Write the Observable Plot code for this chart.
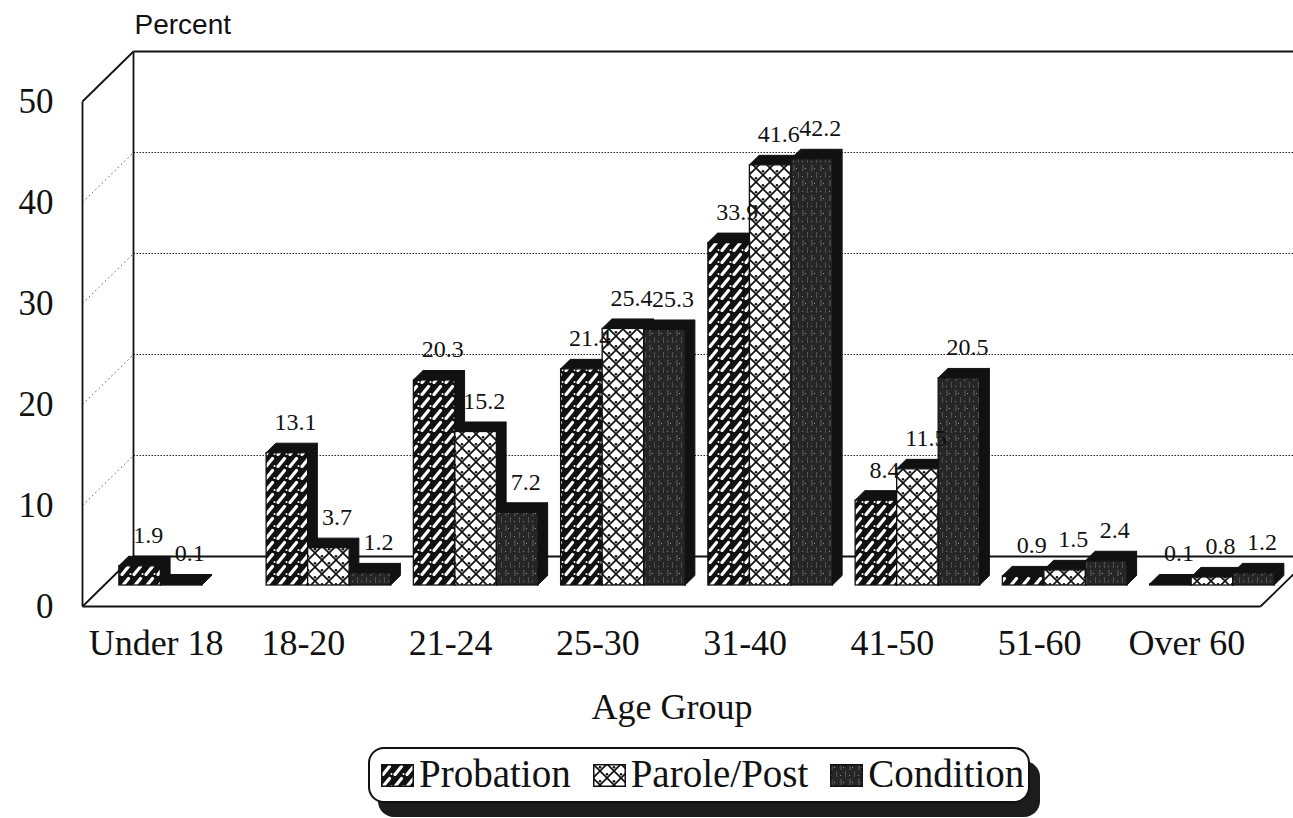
<!DOCTYPE html>
<html>
<head>
<meta charset="utf-8">
<script src="https://cdn.jsdelivr.net/npm/d3@7"></script>
<script src="https://cdn.jsdelivr.net/npm/@observablehq/plot@0.6"></script>
<style>
  html, body { margin: 0; padding: 0; background: #fff; overflow: hidden; }
  #wrap { position: relative; width: 1293px; height: 818px; }
  #chart { position: absolute; left: 0; top: 0; }
  #xtitle { position: absolute; left: 0; top: 689px; width: 1344px; text-align: center;
    font-family: "Liberation Serif", "Times New Roman", serif; font-size: 36px; line-height: 36px; color: #111; }
  #legend { position: absolute; left: 368px; top: 747px; width: 662px; height: 56px; box-sizing: border-box;
    border: 2px solid #111; border-radius: 16px; background: #fff; box-shadow: 10px 14px 0 #1c1c1c;
    display: flex; align-items: center; padding: 0 0 4px 11px;
    font-family: "Liberation Serif", "Times New Roman", serif; font-size: 39px; line-height: 39px; color: #111; }
  #legend .item { display: flex; align-items: center; margin-right: 22px; white-space: nowrap; }
  #legend .item:last-child { margin-right: 0; }
  #legend svg { margin-right: 5px; margin-top: 4px; }
</style>
</head>
<body>
<svg width="0" height="0" style="position:absolute">
  <defs>
    <pattern id="pProb" patternUnits="userSpaceOnUse" width="12" height="12">
      <rect width="12" height="12" fill="#111"/>
      <path d="M2,10.5 L8.5,2.5" stroke="#fff" stroke-width="3.2" stroke-linecap="round"/>
      <circle cx="10.5" cy="10" r="1" fill="#fff"/>
    </pattern>
    <pattern id="pPar" patternUnits="userSpaceOnUse" width="14" height="14">
      <rect width="14" height="14" fill="#fff"/>
      <path d="M0,0 L14,14 M14,0 L0,14" stroke="#111" stroke-width="1.7"/>
      <circle cx="7" cy="3.2" r="1.3" fill="#111"/>
      <circle cx="0" cy="10.2" r="1.3" fill="#111"/>
      <circle cx="14" cy="10.2" r="1.3" fill="#111"/>
    </pattern>
    <pattern id="pCond" patternUnits="userSpaceOnUse" width="9" height="15">
      <rect width="9" height="15" fill="#262626"/>
      <path d="M2,0 L2,6" stroke="#6a6a6a" stroke-width="0.9"/>
      <path d="M6.5,7 L6.5,13" stroke="#555" stroke-width="0.9"/>
      <rect x="4" y="3" width="1" height="1" fill="#999"/>
      <rect x="1" y="11" width="1" height="1" fill="#888"/>
    </pattern>
  </defs>
</svg>
<div id="wrap">
  <div id="chart"></div>
  <div id="xtitle">Age Group</div>
  <div id="legend"></div>
</div>
<script>
// ---------- data ----------
const ages = ["Under 18", "18-20", "21-24", "25-30", "31-40", "41-50", "51-60", "Over 60"];
const probation = [1.9, 13.1, 20.3, 21.4, 33.9, 8.4, 0.9, 0.1];
const parole    = [0.1, 3.7, 15.2, 25.4, 41.6, 11.5, 1.5, 0.8];
const condition = [null, 1.2, 7.2, 25.3, 42.2, 20.5, 2.4, 1.2];
const seriesNames = ["Probation", "Parole/Post", "Condition"];
const yTicks = [0, 10, 20, 30, 40, 50];
const gridValues = [10, 20, 30, 40];

// ---------- geometry (pseudo-3D, in data units) ----------
const seriesValues = [probation, parole, condition];
const seriesFills = ["url(#pProb)", "url(#pPar)", "url(#pCond)"];
const X0 = 0, X1 = ages.length, Y0 = 0, Y1 = 50;
const KX = 0.3463, KY = 4.95;          // offset of the back wall
const Z_BAR = 0.42, DZ = 0.19;         // bar depth position and thickness
const BAR_OFF = 0.105, BAR_W = 0.282;  // bar placement inside a group
const P = (x, y, z) => ({x: x + z * KX, y: y + z * KY});

const bars = [];
seriesValues.forEach((vals, j) => vals.forEach((v, i) => {
  if (v == null) return;
  const x1 = i + BAR_OFF + j * BAR_W + Z_BAR * KX;
  bars.push({j, i, v, key: j + "-" + i, x1, x2: x1 + BAR_W, base: Z_BAR * KY, top: v + Z_BAR * KY});
}));
const sides = bars.flatMap(b => [
  {j: b.j, key: b.key, x: b.x2, y1: b.base, y2: b.top},
  {j: b.j, key: b.key, x: b.x2 + DZ * KX, y1: b.base + DZ * KY, y2: b.top + DZ * KY}
]);
const tops = bars.flatMap(b => [
  {j: b.j, key: b.key, y: b.top, x1: b.x1, x2: b.x2},
  {j: b.j, key: b.key, y: b.top + DZ * KY, x1: b.x1 + DZ * KX, x2: b.x2 + DZ * KX}
]);

const seg = (a, b) => { const p = P(...a), q = P(...b); return {x1: p.x, y1: p.y, x2: q.x, y2: q.y}; };
const frameSegs = [
  seg([X0, Y0, 0], [X0, Y1, 0]),
  seg([X0, Y0, 1], [X0, Y1, 1]),
  seg([X0, Y1, 0], [X0, Y1, 1]),
  seg([X0, Y0, 0], [X0, Y0, 1]),
  seg([X0, Y0, 0], [X1, Y0, 0]),
  seg([X0, Y0, 1], [X1, Y0, 1]),
  seg([X1, Y0, 0], [X1, Y0, 1]),
  seg([X0, Y1, 1], [X1, Y1, 1])
];
const backGrid = gridValues.map(v => seg([X0, v, 1], [X1, v, 1]));
const wallGrid = gridValues.map(v => seg([X0, v, 0], [X0, v, 1]));

const serif = "'Liberation Serif', 'Times New Roman', serif";
const marks = [
  Plot.link(backGrid, {x1: "x1", y1: "y1", x2: "x2", y2: "y2", stroke: "#222", strokeWidth: 1.1, strokeDasharray: "1.5,1.5"}),
  Plot.link(wallGrid, {x1: "x1", y1: "y1", x2: "x2", y2: "y2", stroke: "#555", strokeWidth: 1, strokeDasharray: "1.5,3"}),
  Plot.link(frameSegs, {x1: "x1", y1: "y1", x2: "x2", y2: "y2", stroke: "#111", strokeWidth: 1.8})
];
seriesValues.forEach((_, j) => {
  marks.push(
    Plot.areaY(sides.filter(d => d.j === j), {x: "x", y1: "y1", y2: "y2", z: "key", fill: "#111", stroke: "#111", strokeWidth: 1}),
    Plot.areaX(tops.filter(d => d.j === j), {y: "y", x1: "x1", x2: "x2", z: "key", fill: "#111", stroke: "#111", strokeWidth: 1}),
    Plot.rect(bars.filter(d => d.j === j), {x1: "x1", x2: "x2", y1: "base", y2: "top", fill: seriesFills[j], stroke: "#111", strokeWidth: 1.3})
  );
});
marks.push(
  Plot.text(bars, {x: d => (d.x1 + d.x2) / 2, y: "top", dx: 8, dy: -23, lineAnchor: "bottom",
    text: d => d.v.toFixed(1), fontFamily: serif, fontSize: 24, fill: "#111"}),
  Plot.text(ages, {x: (d, i) => i + 0.5, y: Y0, dy: 37, text: d => d, fontFamily: serif, fontSize: 36, fill: "#111"}),
  Plot.text(yTicks, {x: X0, y: d => d, dx: -29, textAnchor: "end", text: d => String(d), fontFamily: serif, fontSize: 35, fill: "#111"}),
  Plot.text(["Percent"], {x: X0 + KX, y: Y1 + KY, dx: 1, dy: -26, textAnchor: "start", text: d => d,
    fontFamily: "'Liberation Sans', Arial, sans-serif", fontSize: 28, fill: "#111"})
);

const chart = Plot.plot({
  width: 1293,
  height: 690,
  marginLeft: 82,
  marginRight: 33,
  marginTop: 101,
  marginBottom: 84,
  x: {domain: [X0, X1], axis: null},
  y: {domain: [Y0, Y1], axis: null},
  style: {background: "white", overflow: "visible"},
  marks
});
document.getElementById("chart").appendChild(chart);

// legend
const legend = document.getElementById("legend");
seriesNames.forEach((name, j) => {
  const item = document.createElement("div");
  item.className = "item";
  item.innerHTML = `<svg width="33" height="23"><rect x="0.75" y="0.75" width="31.5" height="21.5" fill="${seriesFills[j]}" stroke="#111" stroke-width="1.5"/></svg><span>${name}</span>`;
  legend.appendChild(item);
});
</script>
</body>
</html>
